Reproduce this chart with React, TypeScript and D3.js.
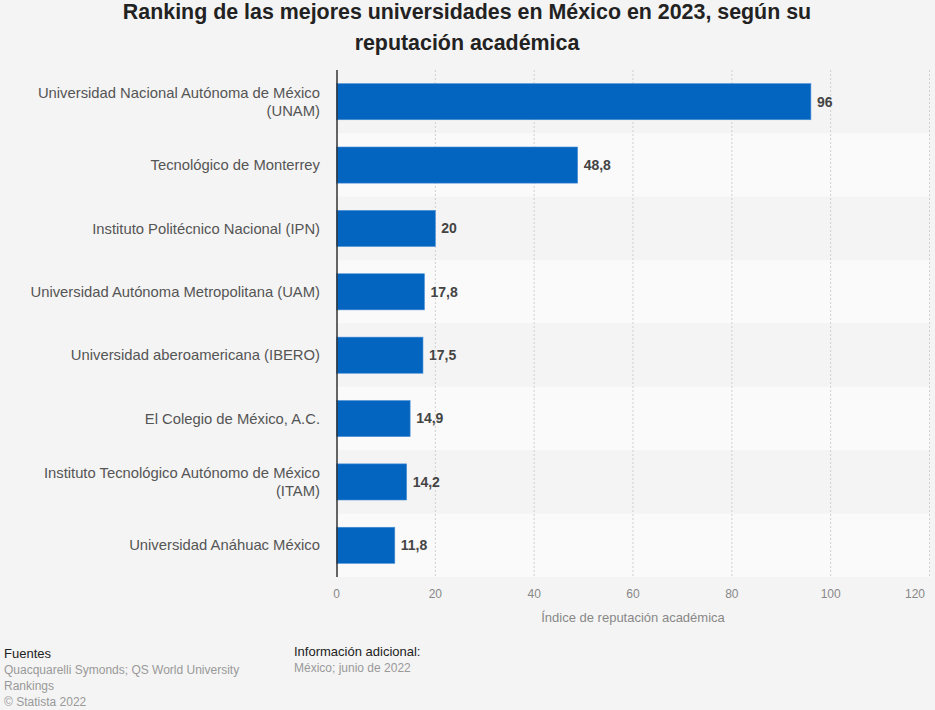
import React from "react";
import * as d3 from "d3";

const categories = [
  ["Universidad Nacional Autónoma de México", "(UNAM)"],
  ["Tecnológico de Monterrey"],
  ["Instituto Politécnico Nacional (IPN)"],
  ["Universidad Autónoma Metropolitana (UAM)"],
  ["Universidad aberoamericana (IBERO)"],
  ["El Colegio de México, A.C."],
  ["Instituto Tecnológico Autónomo de México", "(ITAM)"],
  ["Universidad Anáhuac México"],
];
const values = [96, 48.8, 20, 17.8, 17.5, 14.9, 14.2, 11.8];
const xTicks = [0, 20, 40, 60, 80, 100, 120];

const W = 935, H = 710;
const FONT = "'Liberation Sans', Arial, Helvetica, sans-serif";

export default function App() {
  const x = d3.scaleLinear().domain([0, 120]).range([336.5, 929.5]);
  const idx = d3.range(categories.length);
  const y = d3.scaleBand<number>().domain(idx).range([70, 577]).paddingInner(0).paddingOuter(0);
  const rowH = y.bandwidth();
  const barH = rowH * 0.57;
  const fmt = (v: number) => String(v).replace(".", ",");

  return (
    <svg width={W} height={H} style={{ position: "absolute", left: 0, top: 0, display: "block" }} fontFamily={FONT}>
      <rect x={0} y={0} width={W} height={H} fill="#f4f4f4" />
      <text x={467} y={18.5} textAnchor="middle" fontSize={21.4} fontWeight="bold" fill="#222">
        Ranking de las mejores universidades en México en 2023, según su
      </text>
      <text x={467} y={49.5} textAnchor="middle" fontSize={21.4} fontWeight="bold" fill="#222">
        reputación académica
      </text>
      {idx.map((i) => (
        <rect key={"band" + i} x={337} y={y(i)!} width={930 - 337} height={rowH} fill={i % 2 === 1 ? "#fafafa" : "#f4f4f4"} />
      ))}
      {xTicks.slice(1).map((t) => (
        <line key={"g" + t} x1={x(t)} x2={x(t)} y1={70} y2={577} stroke="#cfcfcf" strokeDasharray="2,2" strokeWidth={1} />
      ))}
      {values.map((v, i) => {
        const by = y(i)! + (rowH - barH) / 2;
        return (
          <g key={"bar" + i}>
            <rect x={x(0)} y={by} width={x(v) - x(0)} height={barH} fill="#0465c0" stroke="#4a8fd6" strokeWidth={0.6} />
            <text x={x(v) + 6} y={by + barH / 2} dy="0.35em" fontSize={14} fontWeight="bold" fill="#444">
              {fmt(v)}
            </text>
          </g>
        );
      })}
      <line x1={337} x2={337} y1={70} y2={577} stroke="#333" strokeWidth={1.5} />
      {categories.map((lines, i) => {
        const cy = y(i)! + rowH / 2;
        const n = lines.length;
        return (
          <text key={"c" + i} x={320} textAnchor="end" fontSize={14.8} fill="#555">
            {lines.map((l, j) => (
              <tspan key={j} x={320} y={cy + (j - (n - 1) / 2) * 18} dy="0.35em">
                {l}
              </tspan>
            ))}
          </text>
        );
      })}
      {xTicks.map((t) => (
        <text key={"t" + t} x={t === 120 ? 925 : x(t)} y={598} textAnchor={t === 120 ? "end" : "middle"} fontSize={12} fill="#888">
          {t}
        </text>
      ))}
      <text x={633} y={622} textAnchor="middle" fontSize={13} fill="#888">
        Índice de reputación académica
      </text>
      <text x={4} y={658} fontSize={13} fill="#222">Fuentes</text>
      <text x={4} y={674} fontSize={12} fill="#999">Quacquarelli Symonds; QS World University</text>
      <text x={4} y={690} fontSize={12} fill="#999">Rankings</text>
      <text x={4} y={706} fontSize={12} fill="#999">© Statista 2022</text>
      <text x={294} y={656} fontSize={13} fill="#222">Información adicional:</text>
      <text x={294} y={672} fontSize={12} fill="#999">México; junio de 2022</text>
    </svg>
  );
}
